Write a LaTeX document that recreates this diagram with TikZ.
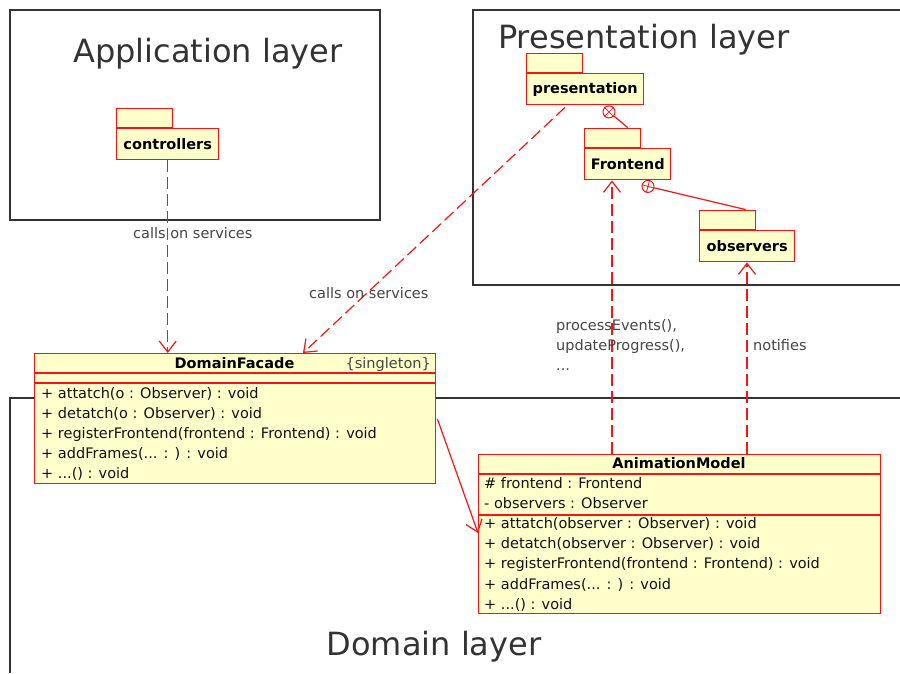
\documentclass[tikz,border=0pt]{standalone}
\usepackage{fontspec}
\setmainfont{DejaVu Sans}
\usetikzlibrary{arrows.meta,calc}
\definecolor{umlred}{HTML}{F51515}
\definecolor{umlfill}{HTML}{FFFFCC}
\definecolor{layergray}{HTML}{333333}
\definecolor{labelgray}{HTML}{444444}
\definecolor{membertext}{HTML}{111111}

% UML package: name, x, y of the body's top-left corner, body width, label
\newcommand\umlpackage[5]{%
  \node[pkgpart, minimum width=#4pt, minimum height=31pt, pkgname] (#1) at (#2,#3) {#5};
  \node[pkgpart, minimum width=56pt, minimum height=19pt, anchor=south west] (#1tab) at (#1.north west) {};
}

\begin{document}
\begin{tikzpicture}[x=1pt,y=-1pt,
  layer/.style={draw=layergray, line width=1.4pt},
  layertitle/.style={font=\fontsize{32}{38}\selectfont, text=layergray, inner sep=0pt, anchor=base},
  pkgpart/.style={draw=umlred, fill=umlfill, line width=1.4pt, inner sep=0pt, anchor=north west},
  pkgname/.style={font=\fontsize{14.5}{17}\selectfont\bfseries},
  classbox/.style={draw=umlred, fill=umlfill, line width=1.4pt, inner sep=0pt, anchor=north west},
  sep/.style={draw=umlred, line width=1.2pt},
  member/.style={font=\fontsize{14.5}{17}\selectfont, text=membertext, inner sep=0pt, anchor=base west},
  classname/.style={font=\fontsize{14.5}{17}\selectfont\bfseries, inner sep=0pt, anchor=base},
  dep/.style={draw=umlred, line width=1.2pt, dash pattern=on 12pt off 5pt, -{Straight Barb[length=11pt,width=17pt]}},
  assoc/.style={draw=umlred, line width=1.2pt, -{Straight Barb[length=11pt,width=17pt]}},
  note/.style={font=\fontsize{14.5}{17}\selectfont, text=labelgray, inner sep=0pt, anchor=base west},
  nestmark/.style={circle, draw=umlred, line width=1pt, minimum size=12pt, inner sep=0pt},
]
\useasboundingbox (0,0) rectangle (900,673);

% layers
\draw[layer] (10,10) rectangle (380,220);
\draw[layer] (900,10) -- (473,10) -- (473,285) -- (900,285);
\draw[layer] (900,398) -- (10,398) -- (10,673);
\node[layertitle] (apptitle) at (208,62) {Application layer};
\node[layertitle, anchor=base west] (prestitle) at (498,48) {Presentation layer};
\node[layertitle] (domtitle) at (434,655) {Domain layer};

% packages
\umlpackage{controllers}{116}{128}{102}{controllers}
\umlpackage{presentation}{526}{73}{117}{presentation}
\umlpackage{frontend}{584}{148}{86}{Frontend}
\umlpackage{observers}{699}{230}{95}{observers}

% nesting connectors
\node[nestmark] (nest1) at ($(presentation.south west)+(83,6.5)$) {};
\draw[umlred, line width=0.8pt] (nest1.45) -- (nest1.225) (nest1.135) -- (nest1.315);
\draw[umlred, line width=1.2pt] (nest1) -- ($(frontendtab.north)+(15,0)$);
\node[nestmark] (nest2) at ($(frontend.south west)+(64,6)$) {};
\draw[umlred, line width=0.8pt] (nest2.345) -- (nest2.165) (nest2.75) -- (nest2.255);
\draw[umlred, line width=1.2pt] (nest2) -- ($(observerstab.north)+(18,0)$);

% classes
\node[classbox, minimum width=401pt, minimum height=130pt] (facade) at (34,353) {};
\draw[sep] ($(facade.north west)+(0,20)$) -- ($(facade.north east)+(0,20)$);
\draw[sep] ($(facade.north west)+(0,30)$) -- ($(facade.north east)+(0,30)$);
\node[classname] (facadename) at (234.5,368) {DomainFacade};
\node[member, anchor=base east, text=labelgray] (facadetag) at (431,368) {\{singleton\}};
\node[member] (f1) at (41,398) {+ attatch(o : Observer) : void};
\node[member] (f2) at (41,418) {+ detatch(o : Observer) : void};
\node[member] (f3) at (41,438) {+ registerFrontend(frontend : Frontend) : void};
\node[member] (f4) at (41,458) {+ addFrames(... : ) : void};
\node[member] (f5) at (41,478) {+ ...() : void};

\node[classbox, minimum width=402pt, minimum height=159pt] (model) at (478,454) {};
\draw[sep] ($(model.north west)+(0,20)$) -- ($(model.north east)+(0,20)$);
\draw[sep] ($(model.north west)+(0,61)$) -- ($(model.north east)+(0,61)$);
\node[classname] (modelname) at (679,468) {AnimationModel};
\node[member] (a1) at (484,488) {\# frontend : Frontend};
\node[member] (a2) at (484,508) {- observers : Observer};
\node[member] (m1) at (484,528) {+ attatch(observer : Observer) : void};
\node[member] (m2) at (484,548) {+ detatch(observer : Observer) : void};
\node[member] (m3) at (484,568) {+ registerFrontend(frontend : Frontend) : void};
\node[member] (m4) at (484,589) {+ addFrames(... : ) : void};
\node[member] (m5) at (484,609) {+ ...() : void};

% dependencies
\draw[dep] (controllers.south) -- (controllers.south |- facade.north);
\node[note] (lbl1) at (133,238) {calls on services};
\draw[dep] ($(presentation.south west)+(39,2)$) -- ($(facade.north west)+(269,0)$);
\node[note] (lbl2) at (309,298) {calls on services};

\coordinate (up1) at ($(model.north west)+(134,0)$);
\coordinate (up2) at ($(model.north west)+(269,0)$);
\draw[dep] (up1) -- (up1 |- frontend.south);
\draw[dep] (up2) -- (up2 |- observers.south);
\node[note] (lbl3) at (556,330) {processEvents(),};
\node[note] (lbl4) at (556,350) {updateProgress(),};
\node[note] (lbl5) at (556,370) {...};
\node[note] (lbl6) at (753,350) {notifies};

% association
\draw[assoc] ($(facade.north east)+(1,66)$) -- ($(model.north west)+(0,79)$);
\end{tikzpicture}
\end{document}
